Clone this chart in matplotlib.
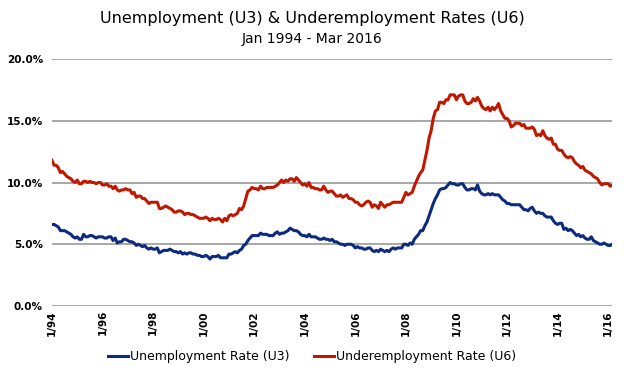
import matplotlib
matplotlib.use("Agg")
import matplotlib.pyplot as plt
import numpy as np

plt.rcParams['font.family'] = ['DejaVu Sans']

# Monthly rates, Jan 1994 - Mar 2016 (%)
u3 = [
    6.6, 6.6, 6.5, 6.4, 6.1, 6.1, 6.1, 6.0, 5.9, 5.8, 5.6, 5.5,   # 1994
    5.6, 5.4, 5.4, 5.8, 5.6, 5.6, 5.7, 5.7, 5.6, 5.5, 5.6, 5.6,   # 1995
    5.6, 5.5, 5.5, 5.6, 5.6, 5.3, 5.5, 5.1, 5.2, 5.2, 5.4, 5.4,   # 1996
    5.3, 5.2, 5.2, 5.1, 4.9, 5.0, 4.9, 4.8, 4.9, 4.7, 4.6, 4.7,   # 1997
    4.6, 4.6, 4.7, 4.3, 4.4, 4.5, 4.5, 4.5, 4.6, 4.5, 4.4, 4.4,   # 1998
    4.3, 4.4, 4.2, 4.3, 4.2, 4.3, 4.3, 4.2, 4.2, 4.1, 4.1, 4.0,   # 1999
    4.0, 4.1, 4.0, 3.8, 4.0, 4.0, 4.0, 4.1, 3.9, 3.9, 3.9, 3.9,   # 2000
    4.2, 4.2, 4.3, 4.4, 4.3, 4.5, 4.6, 4.9, 5.0, 5.3, 5.5, 5.7,   # 2001
    5.7, 5.7, 5.7, 5.9, 5.8, 5.8, 5.8, 5.7, 5.7, 5.7, 5.9, 6.0,   # 2002
    5.8, 5.9, 5.9, 6.0, 6.1, 6.3, 6.2, 6.1, 6.1, 6.0, 5.8, 5.7,   # 2003
    5.7, 5.6, 5.8, 5.6, 5.6, 5.6, 5.5, 5.4, 5.4, 5.5, 5.4, 5.4,   # 2004
    5.3, 5.4, 5.2, 5.2, 5.1, 5.0, 5.0, 4.9, 5.0, 5.0, 5.0, 4.9,   # 2005
    4.7, 4.8, 4.7, 4.7, 4.6, 4.6, 4.7, 4.7, 4.5, 4.4, 4.5, 4.4,   # 2006
    4.6, 4.5, 4.4, 4.5, 4.4, 4.6, 4.7, 4.6, 4.7, 4.7, 4.7, 5.0,   # 2007
    5.0, 4.9, 5.1, 5.0, 5.4, 5.6, 5.8, 6.1, 6.1, 6.5, 6.8, 7.3,   # 2008
    7.8, 8.3, 8.7, 9.0, 9.4, 9.5, 9.5, 9.6, 9.8, 10.0, 9.9, 9.9,  # 2009
    9.8, 9.8, 9.9, 9.9, 9.6, 9.4, 9.4, 9.5, 9.5, 9.4, 9.8, 9.3,   # 2010
    9.1, 9.0, 9.0, 9.1, 9.0, 9.1, 9.0, 9.0, 9.0, 8.8, 8.6, 8.5,   # 2011
    8.3, 8.3, 8.2, 8.2, 8.2, 8.2, 8.2, 8.0, 7.8, 7.8, 7.7, 7.9,   # 2012
    8.0, 7.7, 7.5, 7.6, 7.5, 7.5, 7.3, 7.2, 7.2, 7.2, 6.9, 6.7,   # 2013
    6.6, 6.7, 6.7, 6.2, 6.3, 6.1, 6.2, 6.1, 5.9, 5.7, 5.8, 5.6,   # 2014
    5.7, 5.5, 5.4, 5.4, 5.6, 5.3, 5.2, 5.1, 5.0, 5.0, 5.1, 5.0,   # 2015
    4.9, 4.9, 5.0,                                                # 2016
]
u6 = [
    11.8, 11.4, 11.4, 11.2, 10.8, 10.9, 10.7, 10.5, 10.4, 10.3, 10.1, 10.0,  # 1994
    10.2, 9.9, 9.9, 10.1, 10.1, 10.0, 10.1, 10.0, 10.0, 9.9, 10.0, 10.0,     # 1995
    9.8, 9.8, 9.9, 9.7, 9.7, 9.5, 9.7, 9.4, 9.3, 9.4, 9.4, 9.5,              # 1996
    9.4, 9.4, 9.1, 9.2, 8.8, 8.9, 8.9, 8.7, 8.7, 8.5, 8.3, 8.4,              # 1997
    8.4, 8.4, 8.4, 7.9, 7.9, 8.0, 8.1, 8.0, 7.9, 7.8, 7.6, 7.6,              # 1998
    7.7, 7.7, 7.6, 7.4, 7.5, 7.5, 7.4, 7.4, 7.3, 7.2, 7.1, 7.1,              # 1999
    7.1, 7.2, 7.1, 6.9, 7.1, 7.0, 7.0, 7.1, 7.0, 6.8, 7.1, 6.9,              # 2000
    7.3, 7.4, 7.3, 7.4, 7.5, 7.9, 7.8, 8.1, 8.7, 9.3, 9.4, 9.6,              # 2001
    9.5, 9.5, 9.4, 9.7, 9.5, 9.5, 9.6, 9.6, 9.6, 9.6, 9.7, 9.8,              # 2002
    10.0, 10.2, 10.0, 10.2, 10.1, 10.3, 10.3, 10.1, 10.4, 10.2, 10.0, 9.8,   # 2003
    9.9, 9.7, 10.0, 9.6, 9.6, 9.5, 9.5, 9.4, 9.4, 9.7, 9.4, 9.2,             # 2004
    9.3, 9.3, 9.1, 8.9, 8.9, 9.0, 8.8, 8.9, 9.0, 8.7, 8.7, 8.6,              # 2005
    8.4, 8.4, 8.2, 8.1, 8.2, 8.4, 8.5, 8.4, 8.0, 8.2, 8.1, 7.9,              # 2006
    8.4, 8.2, 8.0, 8.2, 8.2, 8.3, 8.4, 8.4, 8.4, 8.4, 8.4, 8.8,              # 2007
    9.2, 9.0, 9.1, 9.2, 9.7, 10.1, 10.5, 10.8, 11.0, 11.8, 12.6, 13.6,       # 2008
    14.2, 15.2, 15.8, 15.9, 16.5, 16.5, 16.4, 16.7, 16.7, 17.1, 17.1, 17.1,  # 2009
    16.7, 17.0, 17.1, 17.1, 16.6, 16.4, 16.4, 16.5, 16.8, 16.6, 16.9, 16.6,  # 2010
    16.2, 16.0, 15.9, 16.1, 15.8, 16.1, 15.9, 16.1, 16.4, 15.8, 15.5, 15.2,  # 2011
    15.2, 15.0, 14.5, 14.6, 14.8, 14.8, 14.8, 14.6, 14.7, 14.4, 14.4, 14.4,  # 2012
    14.5, 14.3, 13.8, 13.9, 13.8, 14.2, 13.8, 13.6, 13.5, 13.6, 13.1, 13.1,  # 2013
    12.7, 12.6, 12.6, 12.3, 12.1, 12.0, 12.1, 12.0, 11.7, 11.5, 11.4, 11.2,  # 2014
    11.3, 11.0, 10.9, 10.8, 10.7, 10.5, 10.4, 10.3, 10.0, 9.8, 9.9, 9.9,     # 2015
    9.9, 9.7, 9.8,                                                           # 2016
]
tick_labels = ["1/94", "1/96", "1/98", "1/00", "1/02", "1/04", "1/06",
               "1/08", "1/10", "1/12", "1/14", "1/16"]
y_ticks = [0, 5, 10, 15, 20]

x = np.arange(len(u3))

fig = plt.figure(figsize=(6.24, 3.74), dpi=100)
ax = fig.add_axes([0.0833, 0.182, 0.898, 0.660])

ax.set_ylim(0, 20)
ax.set_xlim(0, len(u3) - 1)
ax.set_yticks(y_ticks)
ax.set_yticklabels([f"{v:.1f}%" for v in y_ticks], fontsize=7.5, fontweight='bold')
ax.set_xticks(np.arange(0, len(u3), 24))
ax.set_xticklabels(tick_labels, rotation=90, fontsize=7.5, fontweight='bold')
ax.tick_params(axis='y', length=0, pad=6.5)
ax.tick_params(axis='x', length=0, pad=3)
ax.grid(axis='y', color='#a0a0a0', linewidth=1.3)
ax.set_axisbelow(True)
for s in ax.spines.values():
    s.set_visible(False)

l1, = ax.plot(x, u3, color='#0b2a80', linewidth=2.2, label='Unemployment Rate (U3)')
l2, = ax.plot(x, u6, color='#c01800', linewidth=2.2, label='Underemployment Rate (U6)')

fig.text(0.5, 0.95, "Unemployment (U3) & Underemployment Rates (U6)",
         ha='center', va='center', fontsize=11.5)
fig.text(0.5, 0.897, "Jan 1994 - Mar 2016", ha='center', va='center', fontsize=10)

fig.legend(handles=[l1, l2], loc='center', bbox_to_anchor=(0.5, 0.047), ncol=2,
           frameon=False, fontsize=9, handlelength=1.6, handletextpad=0.15,
           columnspacing=2.0)

fig.savefig("out.png", dpi=100)
